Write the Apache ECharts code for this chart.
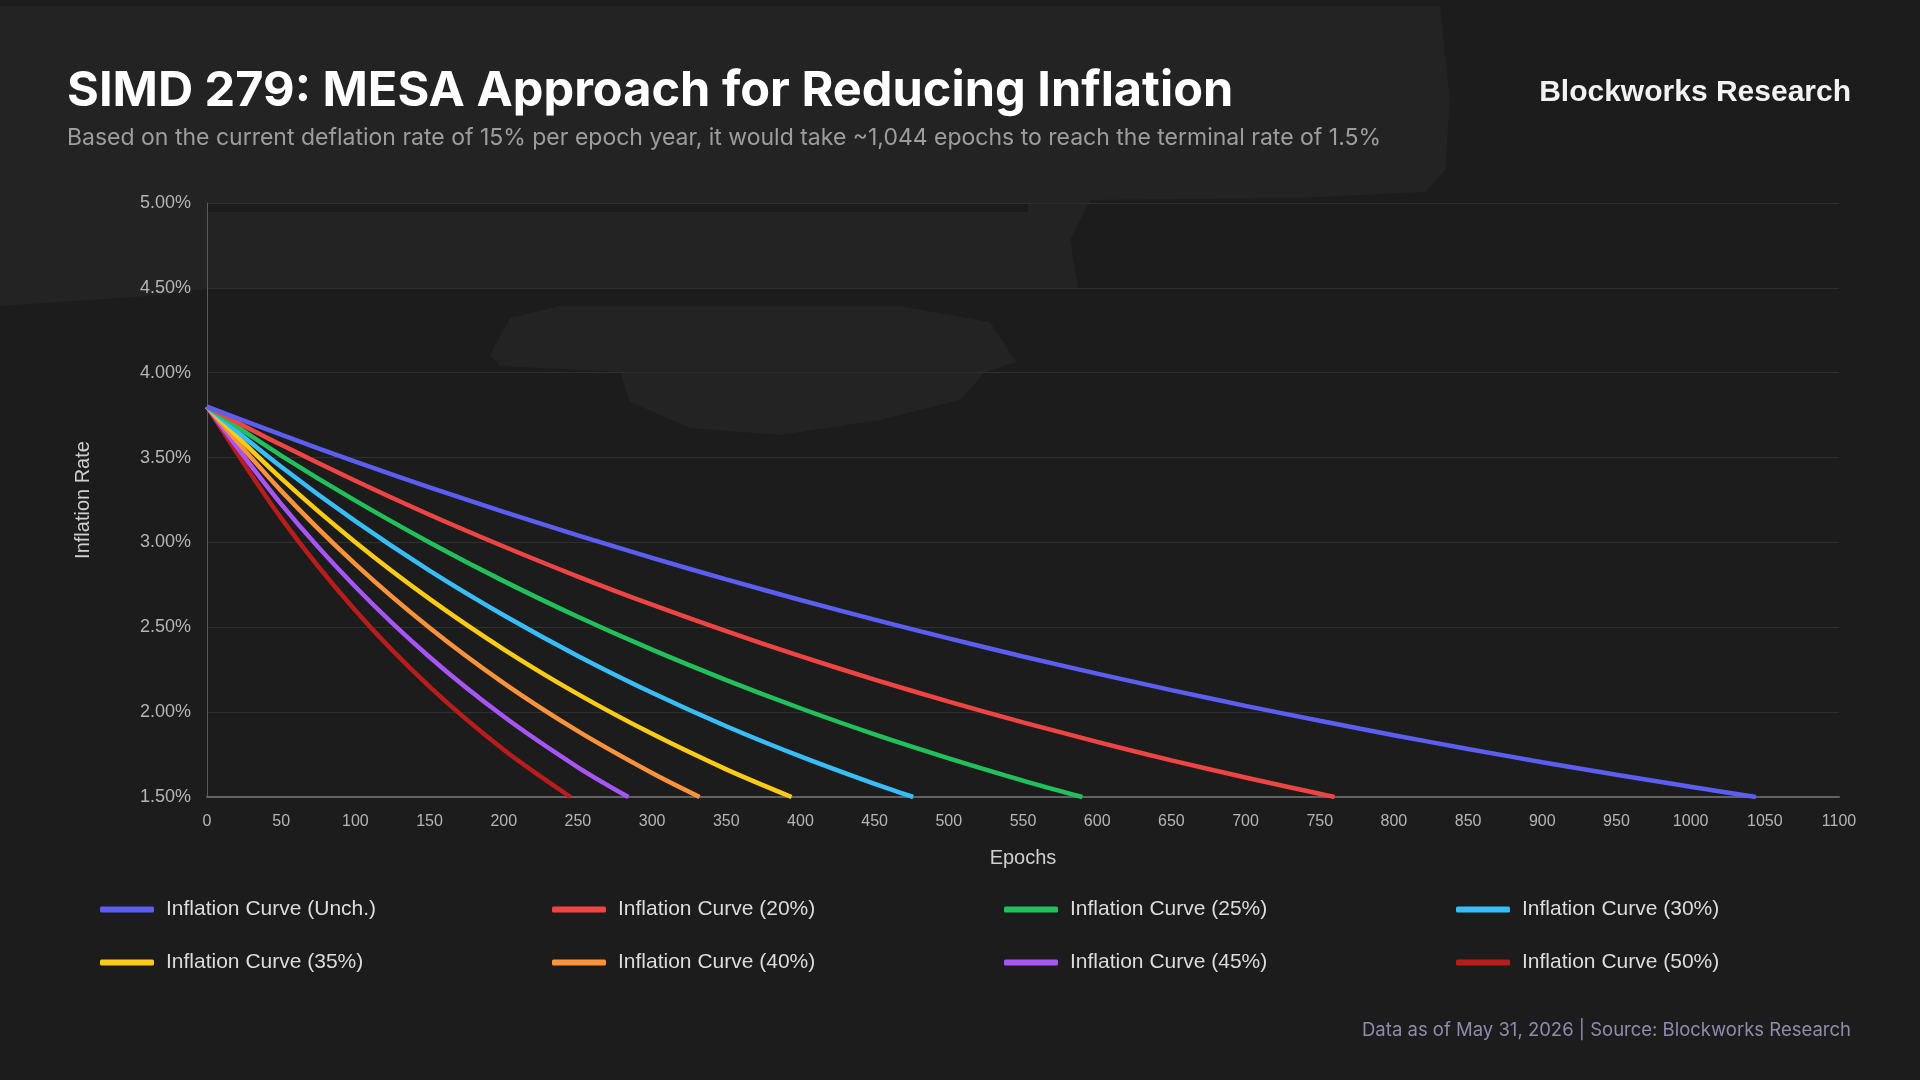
<!DOCTYPE html>
<html>
<head>
<meta charset="utf-8">
<title>SIMD 279: MESA Approach for Reducing Inflation</title>
<script src="https://cdn.jsdelivr.net/npm/echarts@6/dist/echarts.min.js"></script>
<style>
  html, body { margin: 0; padding: 0; background: #1c1c1c; }
  #chart { width: 1920px; height: 1080px; }
</style>
</head>
<body>
<div id="chart"></div>
<script>
var stepEpochs = [0, 50, 100, 150, 200, 250, 300, 350, 400, 450, 500, 550, 600, 650, 700, 750, 800, 850, 900, 950, 1000]
var terminalRate = 1.5

var seriesNames = [
  'Inflation Curve (Unch.)', 'Inflation Curve (20%)', 'Inflation Curve (25%)', 'Inflation Curve (30%)',
  'Inflation Curve (35%)', 'Inflation Curve (40%)', 'Inflation Curve (45%)', 'Inflation Curve (50%)'
]
var seriesColors = ['#5b5ef0', '#ef4444', '#22c05a', '#38bdf8', '#facc15', '#fb923c', '#a855f7', '#b91c1c']
// epoch where each curve reaches the terminal rate
var endEpochs = [1044, 760, 590, 476, 394, 332, 284, 245]

var rateUnch = [3.800, 3.635, 3.476, 3.325, 3.180, 3.042, 2.909, 2.782, 2.661, 2.545, 2.435, 2.328, 2.227, 2.130, 2.037, 1.949, 1.864, 1.783, 1.705, 1.631, 1.560]
var rate20 = [3.800, 3.575, 3.363, 3.163, 2.976, 2.799, 2.633, 2.477, 2.330, 2.192, 2.062, 1.940, 1.825, 1.716, 1.615, 1.519]
var rate25 = [3.800, 3.512, 3.246, 3.000, 2.772, 2.562, 2.368, 2.189, 2.023, 1.869, 1.728, 1.597]
var rate30 = [3.800, 3.446, 3.125, 2.834, 2.571, 2.331, 2.114, 1.917, 1.739, 1.577]
var rate35 = [3.800, 3.377, 3.001, 2.667, 2.370, 2.106, 1.872, 1.663]
var rate40 = [3.800, 3.304, 2.872, 2.497, 2.171, 1.888, 1.641]
var rate45 = [3.800, 3.226, 2.739, 2.325, 1.974, 1.675]
var rate50 = [3.800, 3.143, 2.599, 2.150, 1.778]

var allRates = [rateUnch, rate20, rate25, rate30, rate35, rate40, rate45, rate50]

var chart = echarts.init(document.getElementById('chart'), null, { renderer: 'canvas' })

var series = allRates.map(function(rates, i) {
  var pts = rates.map(function(v, j) { return [stepEpochs[j], v] })
  pts.push([endEpochs[i], terminalRate])
  return {
    name: seriesNames[i],
    type: 'line',
    data: pts,
    smooth: 0.3,
    showSymbol: false,
    symbol: 'none',
    color: seriesColors[i],
    lineStyle: { width: 4.5, color: seriesColors[i] },
    z: 10 - i
  }
})

// one legend per item so the 4 columns line up
var legends = seriesNames.map(function(name, i) {
  return {
    data: [name],
    left: 100 + (i % 4) * 452,
    top: 899 + Math.floor(i / 4) * 53,
    padding: 0,
    icon: 'roundRect',
    itemWidth: 54,
    itemHeight: 6,
    textStyle: {
      color: '#dcdcdc',
      fontSize: 21,
      fontFamily: 'Liberation Sans',
      padding: [0, 0, 0, 7]
    },
    selectedMode: false
  }
})

chart.setOption({
  animation: false,
  backgroundColor: '#1c1c1c',
  graphic: [
    // brush texture behind the title
    {
      type: 'polygon',
      z: -10,
      shape: {
        points: [[0, 6], [1440, 6], [1450, 100], [1445, 170], [1425, 192], [1300, 198], [1090, 200],
          [1070, 240], [1078, 289], [207, 289], [150, 296], [60, 302], [0, 306]]
      },
      style: { fill: '#232323' }
    },
    {
      type: 'polygon',
      z: -10,
      shape: {
        points: [[490, 355], [510, 318], [560, 306], [900, 306], [990, 322], [1016, 362], [985, 372],
          [960, 400], [880, 420], [780, 435], [690, 428], [630, 402], [620, 372], [500, 366]]
      },
      style: { fill: '#232323' }
    },
    {
      type: 'rect', z: -9,
      shape: { x: 208, y: 204, width: 820, height: 8 },
      style: { fill: '#1c1c1c' }
    },
    {
      type: 'text', x: 67, y: 91,
      style: { text: 'SIMD 279: MESA Approach for Reducing Inflation', fill: '#ffffff',
        font: 'bold 48.7px Inter', verticalAlign: 'middle' }
    },
    {
      type: 'text', x: 67, y: 138,
      style: { text: 'Based on the current deflation rate of 15% per epoch year, it would take ~1,044 epochs to reach the terminal rate of 1.5%',
        fill: '#9d9d9d', font: '23px Inter', verticalAlign: 'middle' }
    },
    {
      type: 'text', x: 1851, y: 93,
      style: { text: 'Blockworks Research', fill: '#f2f2f2', font: 'bold 30px "Liberation Sans"',
        align: 'right', verticalAlign: 'middle' }
    },
    {
      type: 'text', x: 1851, y: 1030,
      style: { text: 'Data as of May 31, 2026 | Source: Blockworks Research', fill: '#8f8bab',
        font: '18.5px Inter', align: 'right', verticalAlign: 'middle' }
    }
  ],
  grid: {
    left: 207,
    right: 81,
    top: 203,
    bottom: 283,
    containLabel: false
  },
  legend: legends,
  xAxis: {
    type: 'value',
    min: 0,
    max: 1100,
    interval: 50,
    name: 'Epochs',
    nameLocation: 'middle',
    nameGap: 51,
    nameTextStyle: { color: '#d0d0d0', fontSize: 20, fontFamily: 'Liberation Sans' },
    axisLine: { show: true, onZero: false, lineStyle: { color: '#636363', width: 2 } },
    axisTick: { show: false },
    splitLine: { show: false },
    axisLabel: {
      color: '#b5b5b5', fontSize: 16, fontFamily: 'Liberation Sans', margin: 17,
      formatter: function(v) { return String(v) }
    }
  },
  yAxis: {
    type: 'value',
    min: 1.5,
    max: 5,
    interval: 0.5,
    name: 'Inflation Rate',
    nameLocation: 'middle',
    nameGap: 114,
    nameRotate: 90,
    nameTextStyle: { color: '#d0d0d0', fontSize: 20, fontFamily: 'Liberation Sans' },
    axisLine: { show: true, lineStyle: { color: '#5a5a5a', width: 1 } },
    axisTick: { show: false },
    splitLine: { show: true, lineStyle: { color: '#2f2f2f', width: 1 } },
    axisLabel: {
      color: '#b5b5b5', fontSize: 18, fontFamily: 'Liberation Sans', margin: 16,
      formatter: function(v) { return v.toFixed(2) + '%' }
    }
  },
  series: series
})
</script>
</body>
</html>
